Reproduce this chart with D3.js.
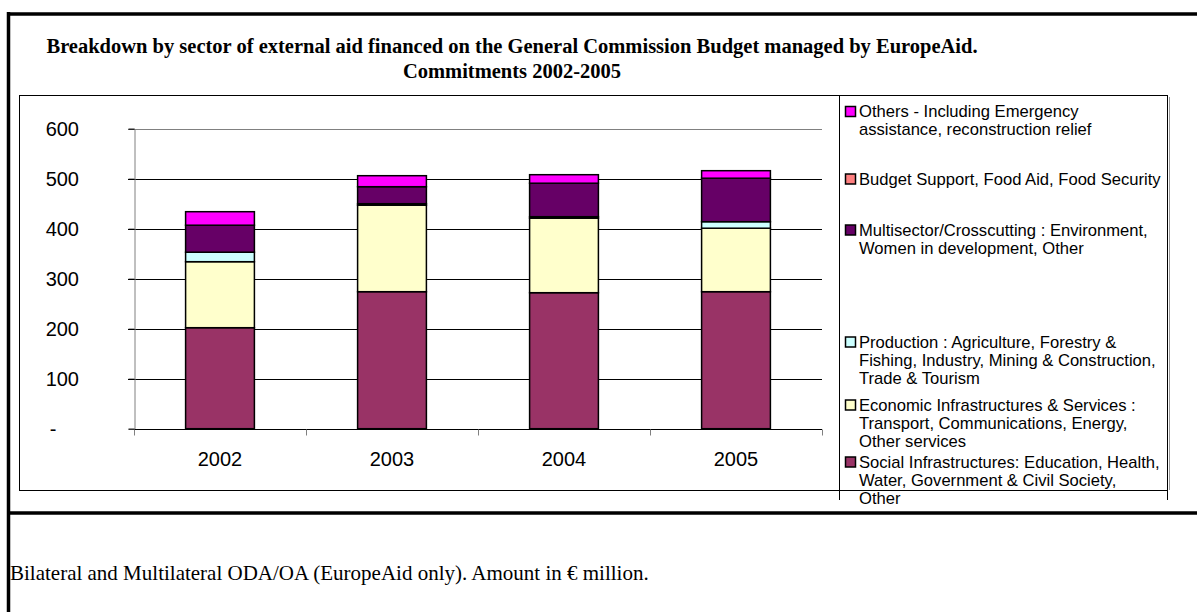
<!DOCTYPE html>
<html>
<head>
<meta charset="utf-8">
<script src="https://cdn.jsdelivr.net/npm/d3@7/dist/d3.min.js"></script>
<style>
  html, body { margin: 0; padding: 0; background: #fff; }
  svg { display: block; }
</style>
</head>
<body>
<svg id="chart" width="1197" height="612"></svg>
<script>
// Commitments (EUR million) by sector, EuropeAid, 2002-2005
const years = ["2002", "2003", "2004", "2005"];
const social      = [202, 274, 272, 274];
const economic    = [132, 173, 149, 127];
const production  = [19, 3, 3, 13];
const multisector = [54, 34, 67, 87];
const budgetFood  = [0, 0, 0, 0];
const others      = [27, 22, 17, 15];

const yTicks = [0, 100, 200, 300, 400, 500, 600];

const seriesValues = [social, economic, production, multisector, budgetFood, others];
const seriesColors = ["#993366", "#FFFFCC", "#CCFFFF", "#660066", "#FF8080", "#FF00FF"];

// legend text, wrapped as it appears (top entry first)
const legendLines = [
  ["Others - Including Emergency", "assistance, reconstruction relief"],
  ["Budget Support, Food Aid, Food Security"],
  ["Multisector/Crosscutting : Environment,", "Women in development, Other"],
  ["Production : Agriculture, Forestry &", "Fishing, Industry, Mining & Construction,", "Trade & Tourism"],
  ["Economic Infrastructures & Services :", "Transport, Communications, Energy,", "Other services"],
  ["Social Infrastructures: Education, Health,", "Water, Government & Civil Society,", "Other"]
];
const legendTop = [111.5, 179, 230, 342, 405, 462];

const svg = d3.select("#chart");

// page borders around the chart block
const page = svg.append("g");
page.append("line").attr("x1", 8.5).attr("x2", 8.5).attr("y1", 12).attr("y2", 612)
  .attr("stroke", "#000").attr("stroke-width", 3.5);
page.append("line").attr("x1", 7).attr("x2", 1197).attr("y1", 14).attr("y2", 14)
  .attr("stroke", "#000").attr("stroke-width", 3.5);
page.append("line").attr("x1", 7).attr("x2", 1197).attr("y1", 513).attr("y2", 513)
  .attr("stroke", "#000").attr("stroke-width", 3.5);

// title
const title = svg.append("g").attr("font-family", "'Liberation Serif', 'Times New Roman', serif")
  .attr("font-weight", "bold").attr("font-size", 20.5).attr("text-anchor", "middle").attr("fill", "#000");
title.append("text").attr("x", 512).attr("y", 52.5)
  .text("Breakdown by sector of external aid financed on the General Commission Budget managed by EuropeAid.");
title.append("text").attr("x", 512).attr("y", 78)
  .text("Commitments 2002-2005");

// chart frame with a faint shadow on the right
svg.append("line").attr("x1", 1169.5).attr("x2", 1169.5).attr("y1", 97).attr("y2", 490)
  .attr("stroke", "#999").attr("stroke-width", 1);
svg.append("rect").attr("x", 19.5).attr("y", 95.5).attr("width", 1148).attr("height", 395)
  .attr("fill", "none").attr("stroke", "#000").attr("stroke-width", 1);

// scales
const x = d3.scaleBand().domain(years).range([134, 822]).padding(0);
const y = d3.scaleLinear().domain([0, 600]).range([428.7, 128.7]);
const barW = x.bandwidth() * 0.4;

// gridlines
const g = svg.append("g");
g.selectAll("line.grid").data(yTicks.filter(d => d > 0)).join("line")
  .attr("class", "grid")
  .attr("x1", 128).attr("x2", 822)
  .attr("y1", d => Math.round(y(d)) + 0.5).attr("y2", d => Math.round(y(d)) + 0.5)
  .attr("stroke", (d) => d === 600 ? "#808080" : "#000").attr("stroke-width", 1);

// stacked bars
const stackData = years.map((yr, i) => {
  const o = { year: yr };
  seriesValues.forEach((s, k) => { o["s" + k] = s[i]; });
  return o;
});
const stack = d3.stack().keys(seriesValues.map((s, k) => "s" + k));
const layers = stack(stackData);

g.selectAll("g.layer").data(layers).join("g")
  .attr("class", "layer")
  .attr("fill", (d, k) => seriesColors[k])
  .selectAll("rect").data(d => d.filter(p => p[1] - p[0] > 0)).join("rect")
  .attr("x", p => x(p.data.year) + (x.bandwidth() - barW) / 2)
  .attr("width", barW)
  .attr("y", p => y(p[1]))
  .attr("height", p => y(p[0]) - y(p[1]))
  .attr("stroke", "#000").attr("stroke-width", 1.5);

// y axis
const yAxis = d3.axisLeft(y).tickValues(yTicks).tickSize(6).tickFormat("");
const ya = svg.append("g").attr("transform", "translate(134.5,0)").call(yAxis);
ya.select(".domain").attr("stroke", "#808080");
ya.selectAll(".tick line").attr("stroke", "#000");

const yLab = svg.append("g").attr("font-family", "Arial, 'Liberation Sans', sans-serif").attr("font-size", 20).attr("fill", "#000");
yLab.selectAll("text").data(yTicks).join("text")
  .attr("x", d => d === 0 ? 53 : 79)
  .attr("text-anchor", d => d === 0 ? "middle" : "end")
  .attr("y", d => y(d)).attr("dy", "0.35em")
  .text(d => d === 0 ? "-" : d3.format("d")(d));

// x axis
const xa = svg.append("g").attr("transform", "translate(0,429.5)");
xa.append("line").attr("x1", 134).attr("x2", 822).attr("y1", 0).attr("y2", 0).attr("stroke", "#000");
const boundaries = years.map(d => x(d)).concat([x.range()[1]]);
xa.selectAll("line.tick").data(boundaries).join("line").attr("class", "tick")
  .attr("x1", d => Math.round(d) + 0.5).attr("x2", d => Math.round(d) + 0.5)
  .attr("y1", 0).attr("y2", 6).attr("stroke", "#808080");
xa.selectAll("text").data(years).join("text")
  .attr("x", d => x(d) + x.bandwidth() / 2).attr("y", 36)
  .attr("text-anchor", "middle")
  .attr("font-family", "Arial, 'Liberation Sans', sans-serif").attr("font-size", 20)
  .text(d => d);

// legend box (sides only, running past the frame bottom)
const lg = svg.append("g");
lg.append("line").attr("x1", 839.5).attr("x2", 839.5).attr("y1", 95).attr("y2", 500).attr("stroke", "#000");
lg.append("line").attr("x1", 1167.5).attr("x2", 1167.5).attr("y1", 95).attr("y2", 500).attr("stroke", "#000");

const order = [5, 4, 3, 2, 1, 0];
order.forEach((k, i) => {
  const top = legendTop[i];
  lg.append("rect").attr("x", 845.5).attr("y", top - 5).attr("width", 10).attr("height", 10)
    .attr("fill", seriesColors[k]).attr("stroke", "#000").attr("stroke-width", 1.5);
  const t = lg.append("text").attr("font-family", "Arial, 'Liberation Sans', sans-serif")
    .attr("font-size", 16.6).attr("fill", "#000");
  legendLines[i].forEach((ln, j) => {
    t.append("tspan").attr("x", 859).attr("y", top + j * 18).attr("dy", "0.35em").text(ln);
  });
});

// footnote
svg.append("text").attr("x", 10).attr("y", 580)
  .attr("font-family", "'Liberation Serif', 'Times New Roman', serif").attr("font-size", 21)
  .text("Bilateral and Multilateral ODA/OA (EuropeAid only). Amount in \u20AC million.");
</script>
</body>
</html>
